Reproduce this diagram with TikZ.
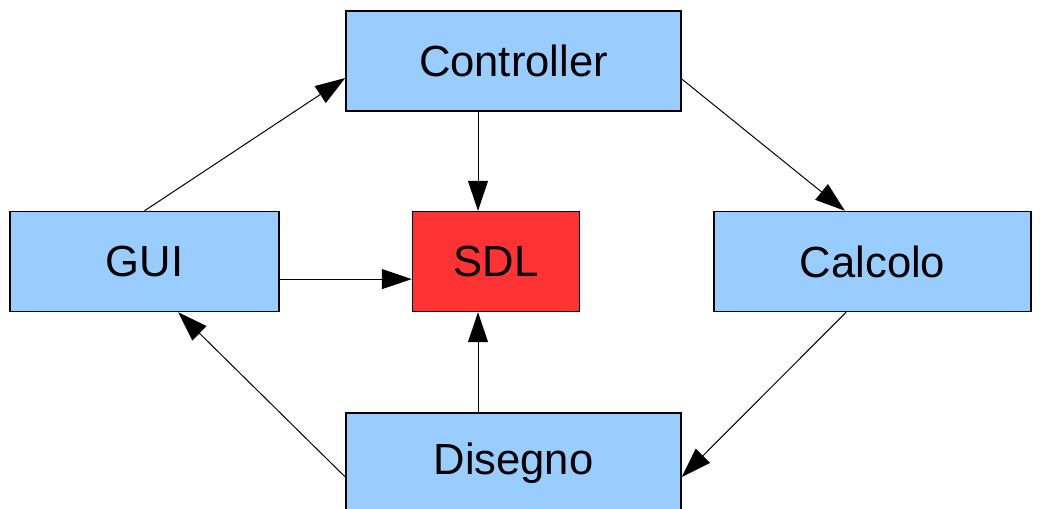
\documentclass[tikz,border=0pt]{standalone}
\usepackage{fontspec}
\setmainfont{Liberation Sans}
\usepackage{xcolor}
\usetikzlibrary{arrows.meta}
\pgfdeclarelayer{nodelayer}
\pgfdeclarelayer{edgelayer}
\pgfsetlayers{nodelayer,edgelayer,main}
\definecolor{boxblue}{HTML}{99CCFF}
\definecolor{boxred}{HTML}{FF3333}
\tikzset{
    module/.style = {draw, line width=1pt, fill=boxblue, inner sep=0pt,
        minimum height=2.5cm, font=\fontsize{31}{37}\selectfont},
    arr/.style = {-{Triangle[length=0.75cm, width=0.5cm]}, line width=0.7pt}
}

\begin{document}
\begin{tikzpicture}[x=0.025cm, y=-0.025cm]
    \useasboundingbox (0, 0) rectangle (1041, 508);
    \clip (0, 0) rectangle (1041, 508);
    \begin{pgfonlayer}{nodelayer}
        \node [module, minimum width=8.375cm] (ctrl) at (513.5, 61) {Controller};
        \node [module, minimum width=6.725cm] (gui) at (144.5, 261.5) {GUI};
        \node [module, minimum width=4.175cm, fill=boxred] (sdl) at (496, 261.5) {SDL};
        \node [module, minimum width=7.925cm] (calc) at (872.5, 261.5) {Calcolo};
        \node [module, minimum width=8.375cm] (dis) at (513.5, 463) {Disegno};
        \coordinate (sdltop) at ([xshift=-0.45cm]sdl.north);
        \coordinate (sdlbot) at ([xshift=-0.45cm]sdl.south);
        \coordinate (guiout) at ([yshift=-0.44cm]gui.east);
    \end{pgfonlayer}
    \begin{pgfonlayer}{edgelayer}
        \draw [arr] (gui.north) to ([yshift=-0.425cm]ctrl.west);
        \draw [arr] (ctrl.south -| sdltop) to (sdltop);
        \draw [arr] ([yshift=-0.45cm]ctrl.east) to ([xshift=-0.69cm]calc.north);
        \draw [arr] (guiout) to (sdl.west |- guiout);
        \draw [arr] ([xshift=-0.66cm]calc.south) to ([yshift=-0.35cm]dis.east);
        \draw [arr] (dis.north -| sdlbot) to (sdlbot);
        \draw [arr] ([yshift=-0.35cm]dis.west) to ([xshift=0.84cm]gui.south);
    \end{pgfonlayer}
\end{tikzpicture}
\end{document}
